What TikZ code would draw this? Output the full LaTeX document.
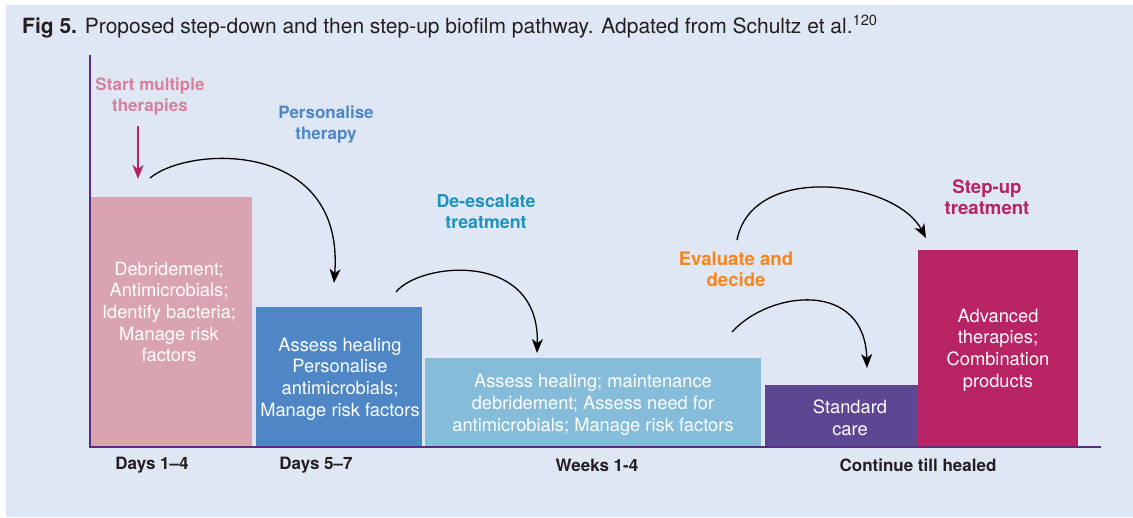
\documentclass[tikz,border=0pt]{standalone}
\usepackage{fontspec}
\setmainfont{TeX Gyre Heros}
\usetikzlibrary{arrows.meta}

\definecolor{bgblue}{HTML}{E0E7F4}
\definecolor{pinkbar}{HTML}{D9A3B0}
\definecolor{bluebar}{HTML}{4E86C6}
\definecolor{lightbar}{HTML}{84BCDA}
\definecolor{purplebar}{HTML}{5E4792}
\definecolor{magentabar}{HTML}{B82363}
\definecolor{startpink}{HTML}{D7809C}
\definecolor{deesc}{HTML}{1B93BE}
\definecolor{evalorange}{HTML}{F7861E}
\definecolor{axispurple}{HTML}{5B2A86}
\definecolor{darktext}{HTML}{231F20}

\begin{document}
\begin{tikzpicture}[x=1pt,y=-1pt,
    bar/.style={rectangle,inner sep=0pt,anchor=north west},
    boxtext/.style={align=center,text=white,font=\fontsize{18.3}{21.7}\selectfont},
    phase/.style={align=center,font=\bfseries\fontsize{17}{21}\selectfont},
    bigphase/.style={phase,font=\bfseries\fontsize{18.6}{21}\selectfont},
    period/.style={font=\bfseries\fontsize{17}{20}\selectfont,text=darktext},
    flow/.style={-{Stealth[length=14pt,width=11pt,inset=4pt]},line width=1.3pt}]
  \useasboundingbox (0,0) rectangle (1133,517);
  \fill[white] (0,0) rectangle (1133,517);
  \fill[bgblue] (6,5) rectangle (1133,517);

  \node[anchor=base west,inner sep=0pt,text=darktext,font=\fontsize{21}{24}\selectfont] (title) at (22,33)
    {\textbf{Fig 5.} Proposed step-down and then step-up biofilm pathway. Adpated from Schultz et al.\textsuperscript{120}};

  % bars
  \path
    (91,197) node[bar,fill=pinkbar,minimum width=161pt,minimum height=250pt] (b1) {}
    (256,307) node[bar,fill=bluebar,minimum width=166pt,minimum height=140pt] (b2) {}
    (425,358) node[bar,fill=lightbar,minimum width=336pt,minimum height=89pt] (b3) {}
    (765,385) node[bar,fill=purplebar,minimum width=153pt,minimum height=62pt] (b4) {}
    (918,250) node[bar,fill=magentabar,minimum width=160pt,minimum height=197pt] (b5) {};

  % texts in the bars
  \path
    (169,312) node[boxtext] (t1) {Debridement;\\Antimicrobials;\\Identify bacteria;\\Manage risk\\factors}
    (340,379) node[boxtext] (t2) {Assess healing\\Personalise\\antimicrobials;\\Manage risk factors}
    (593,405) node[boxtext] (t3) {Assess healing; maintenance\\debridement; Assess need for\\antimicrobials; Manage risk factors}
    (850,418) node[boxtext] (t4) {Standard\\care}
    (998,350) node[boxtext] (t5) {Advanced\\therapies;\\Combination\\products};

  % phases
  \path
    (150,97) node[phase,text=startpink] (start) {Start multiple\\therapies}
    (326,125) node[phase,text=bluebar] (pers) {Personalise\\therapy}
    (486,212) node[phase,text=deesc,font=\bfseries\fontsize{17.8}{21}\selectfont] (deesc) {De-escalate\\treatment}
    (736,269) node[bigphase,text=evalorange] (eval) {Evaluate and\\decide}
    (987,197) node[bigphase,text=magentabar] (stepup) {Step-up\\treatment};

  % time periods
  \path
    (152,465) node[period] (d14) {Days 1--4}
    (316,465) node[period] (d57) {Days 5--7}
    (597,465) node[period] (w14) {Weeks 1-4}
    (918,465) node[period] (cont) {Continue till healed};

  % axes
  \coordinate (ytop) at (90,55);
  \coordinate (orig) at (90,447);
  \coordinate (xend) at (1101,447);
  \draw[axispurple,line width=1.6pt] (ytop) -- (orig) -- (xend);

  % arrow ends
  \coordinate (s0) at (138,126);
  \coordinate (e0) at (138,179);
  \coordinate (s1) at (150,178);
  \coordinate (e1) at (334,283);
  \coordinate (s2) at (396,292);
  \coordinate (e2) at (537,353);
  \coordinate (s3) at (737,240);
  \coordinate (e3) at (926,238);
  \coordinate (s4) at (732,332);
  \coordinate (e4) at (867,368);

  \begin{scope}[flow]
    \draw[magentabar,line width=1.6pt] (s0) to (e0);
    \draw (s1) .. controls (190,145) and (345,140) .. (e1);
    \draw (s2) .. controls (420,262) and (540,250) .. (e2);
    \draw (s3) .. controls (752,162) and (895,180) .. (e3);
    \draw (s4) .. controls (770,290) and (865,280) .. (e4);
  \end{scope}
\end{tikzpicture}
\end{document}
